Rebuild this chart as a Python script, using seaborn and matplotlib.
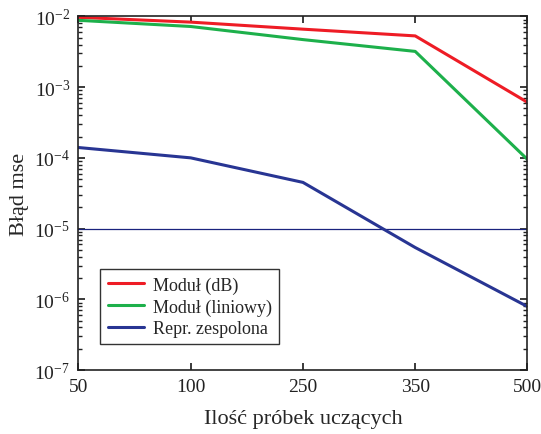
import pandas as pd
from matplotlib import pyplot as plt
from matplotlib import ticker
import numpy as np
import seaborn as sns

# values
samples = ['50', '100', '250', '350', '500']
modul_db = [9.7e-3, 8.3e-3, 6.6e-3, 5.3e-3, 6.1e-4]
modul_lin = [8.8e-3, 7.2e-3, 4.7e-3, 3.2e-3, 9.5e-5]
repr_zesp = [1.4e-4, 1.0e-4, 4.5e-5, 5.4e-6, 7.9e-7]
threshold = 1e-5

series = {'Moduł (dB)': modul_db, 'Moduł (liniowy)': modul_lin, 'Repr. zespolona': repr_zesp}
colors = ['#ee1c25', '#1db04b', '#283593']

rows = []
for name, vals in series.items():
    for i, v in enumerate(vals):
        rows.append({'pos': i, 'mse': v, 'series': name})
data = pd.DataFrame(rows)

sns.set_theme(style='ticks')
plt.rcParams['font.family'] = ['Liberation Serif', 'DejaVu Serif']
plt.rcParams['mathtext.fontset'] = 'custom'
plt.rcParams['mathtext.rm'] = 'Liberation Serif'

fig, ax = plt.subplots(figsize=(5.41, 4.35), dpi=100)
sns.lineplot(data=data, x='pos', y='mse', hue='series', palette=colors, linewidth=2.2, ax=ax)
ax.axhline(threshold, color='#1a237e', linewidth=0.9, zorder=1)

ax.set_yscale('log')
ax.set_ylim(1e-7, 1e-2)
ax.yaxis.set_major_formatter(ticker.FuncFormatter(
    lambda v, p: r'$\mathregular{10^{%d}}$' % int(round(np.log10(v)))))
ax.set_xlim(0, len(samples) - 1)
ax.set_xticks(range(len(samples)))
ax.set_xticklabels(samples)
ax.tick_params(which='both', direction='in', top=True, right=True, labelsize=14, colors='#222222')
ax.tick_params(which='major', length=5)
ax.tick_params(which='minor', length=3)
ax.tick_params(axis='x', which='minor', top=False, bottom=False)
ax.tick_params(axis='x', pad=6)
ax.tick_params(axis='y', pad=6)
for s in ax.spines.values():
    s.set_color('#222222')
    s.set_linewidth(1.2)

ax.set_xlabel('Ilość próbek uczących', fontsize=16, labelpad=10)
ax.set_ylabel('Błąd mse', fontsize=16, labelpad=4)

leg = ax.legend(loc='lower left', bbox_to_anchor=(0.049, 0.073), fontsize=13, frameon=True,
                fancybox=False, edgecolor='black', handlelength=2.0, handletextpad=0.5,
                borderpad=0.4, labelspacing=0.25, borderaxespad=0)
leg.get_frame().set_linewidth(1.0)

fig.subplots_adjust(left=0.145, right=0.975, top=0.96, bottom=0.147)
plt.savefig('out.png', dpi=100)
